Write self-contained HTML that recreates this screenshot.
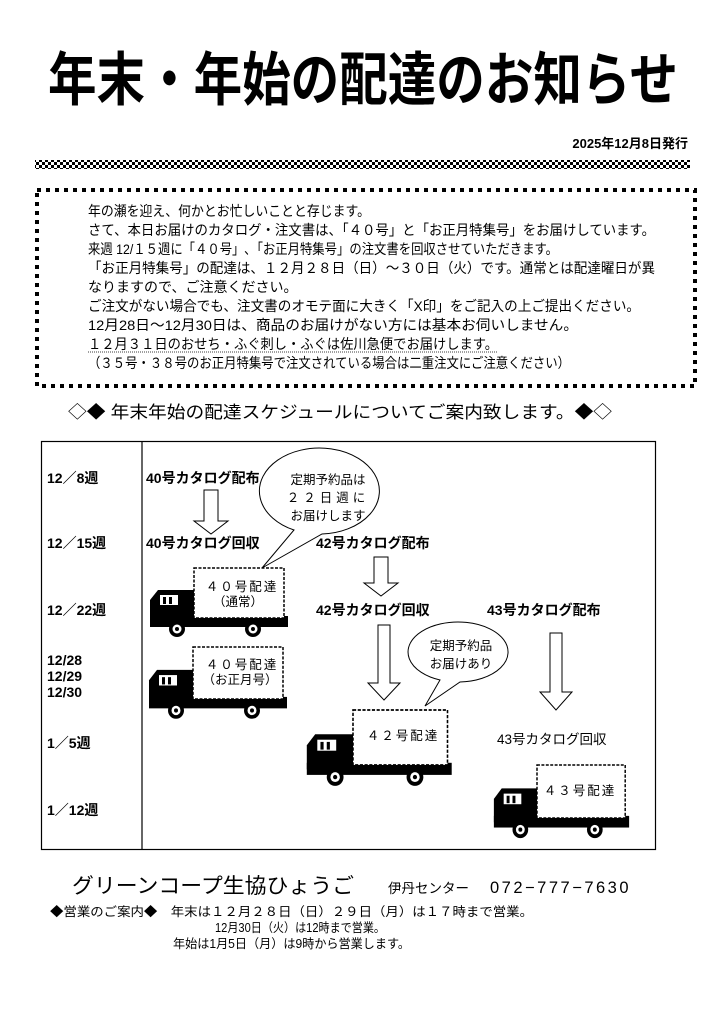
<!DOCTYPE html>
<html><head><meta charset="utf-8"><style>
html,body{margin:0;padding:0;background:#fff}
svg{display:block}
text{font-family:"Liberation Sans","Noto Sans CJK JP",sans-serif;fill:#000}
.b{font-weight:bold}
</style></head><body>
<svg width="724" height="1024" viewBox="0 0 724 1024" xmlns="http://www.w3.org/2000/svg">
<defs>
<pattern id="chk" width="6" height="6" patternUnits="userSpaceOnUse">
<rect width="6" height="6" fill="#fff"/><rect width="3" height="3" fill="#000"/><rect x="3" y="3" width="3" height="3" fill="#000"/>
</pattern>
<g id="truck">
<path d="M -44,54 L -44,32 L -36,22 L 4,22 L 4,54 Z" fill="#000"/>
<rect x="-34" y="27" width="18" height="10" fill="#fff"/>
<rect x="-31" y="29" width="3" height="7" fill="#000"/><rect x="-25" y="29" width="3" height="7" fill="#000"/>
<rect x="-44" y="48" width="138" height="11" fill="#000"/>
<rect x="0" y="0" width="90" height="50" fill="#fff" stroke="#000" stroke-width="1.5" stroke-dasharray="3 1.5"/>
<circle cx="-17" cy="61" r="8" fill="#000"/><circle cx="-17" cy="61" r="4.5" fill="#fff"/><circle cx="-17" cy="61" r="2" fill="#000"/>
<circle cx="59" cy="61" r="8" fill="#000"/><circle cx="59" cy="61" r="4.5" fill="#fff"/><circle cx="59" cy="61" r="2" fill="#000"/>
</g>
</defs>

<text x="363" y="100" font-size="58" class="b" text-anchor="middle" textLength="630" lengthAdjust="spacingAndGlyphs">年末・年始の配達のお知らせ</text>
<text x="688" y="148" font-size="13" class="b" text-anchor="end">2025年12月8日発行</text>
<rect x="35" y="160" width="655" height="9" fill="url(#chk)"/>

<rect x="37" y="190" width="658" height="196" fill="none" stroke="#000" stroke-width="4" stroke-dasharray="4 5"/>
<g font-size="14">
<text x="88" y="216" textLength="282" lengthAdjust="spacingAndGlyphs">年の瀬を迎え、何かとお忙しいことと存じます。</text>
<text x="88" y="235" textLength="567" lengthAdjust="spacingAndGlyphs">さて、本日お届けのカタログ・注文書は、「４０号」と「お正月特集号」をお届けしています。</text>
<text x="88" y="254" textLength="470" lengthAdjust="spacingAndGlyphs">来週 12/１５週に「４０号」､「お正月特集号」の注文書を回収させていただきます。</text>
<text x="88" y="273" textLength="567" lengthAdjust="spacingAndGlyphs">「お正月特集号」の配達は、１２月２８日（日）～３０日（火）です。通常とは配達曜日が異</text>
<text x="88" y="292">なりますので、ご注意ください。</text>
<text x="88" y="311" textLength="552" lengthAdjust="spacingAndGlyphs">ご注文がない場合でも、注文書のオモテ面に大きく「X印」をご記入の上ご提出ください。</text>
<text x="88" y="330" textLength="490" lengthAdjust="spacingAndGlyphs">12月28日～12月30日は、商品のお届けがない方には基本お伺いしません。</text>
<text x="88" y="349" textLength="410" lengthAdjust="spacingAndGlyphs">１２月３１日のおせち・ふぐ刺し・ふぐは佐川急便でお届けします。</text>
<line x1="88" y1="352" x2="498" y2="352" stroke="#000" stroke-width="0.8" stroke-dasharray="1 1"/>
<text x="88" y="368" textLength="482" lengthAdjust="spacingAndGlyphs">（３５号・３８号のお正月特集号で注文されている場合は二重注文にご注意ください）</text>
</g>

<text x="68" y="418" font-size="17" textLength="544" lengthAdjust="spacingAndGlyphs">◇◆ 年末年始の配達スケジュールについてご案内致します。◆◇</text>

<rect x="41.5" y="441.5" width="614" height="408" fill="none" stroke="#000" stroke-width="1.2"/>
<line x1="142" y1="442" x2="142" y2="850" stroke="#000" stroke-width="1.2"/>

<g font-size="14" class="b">
<text x="47" y="483">12／8週</text>
<text x="47" y="548">12／15週</text>
<text x="47" y="615">12／22週</text>
<text x="47" y="665">12/28</text>
<text x="47" y="681">12/29</text>
<text x="47" y="697">12/30</text>
<text x="47" y="748">1／5週</text>
<text x="47" y="815">1／12週</text>
<text x="146" y="483">40号カタログ配布</text>
<text x="146" y="548">40号カタログ回収</text>
<text x="316" y="548">42号カタログ配布</text>
<text x="316" y="615">42号カタログ回収</text>
<text x="487" y="615">43号カタログ配布</text>
</g>
<text x="497" y="744" font-size="13.5">43号カタログ回収</text>

<g fill="#fff" stroke="#000" stroke-width="1">
<polygon points="204,490 218,490 218,521 228,521 211,534 194,521 204,521"/>
<polygon points="374,557 388,557 388,583 398,583 381,596 364,583 374,583"/>
<polygon points="378,625 390,625 390,683 400,683 384,700 368,683 378,683"/>
<polygon points="550,633 562,633 562,692 572,692 556,710 540,692 550,692"/>
</g>

<path d="M 294,530 A 60 43 0 1 1 322,534 L 262,568 Z" fill="#fff" stroke="#000" stroke-width="1"/>
<g font-size="12.5" text-anchor="middle">
<text x="328" y="484">定期予約品は</text>
<text x="328" y="502" letter-spacing="4">２２日週に</text>
<text x="328" y="520">お届けします</text>
</g>
<path d="M 440,680 A 50 30 0 1 1 460,682 L 425,706 Z" fill="#fff" stroke="#000" stroke-width="1"/>
<g font-size="12.5" text-anchor="middle">
<text x="461" y="650">定期予約品</text>
<text x="461" y="668">お届けあり</text>
</g>

<use href="#truck" x="194" y="568"/>
<use href="#truck" transform="translate(193,647) scale(1,1.04)"/>
<use href="#truck" transform="translate(353,710) scale(1.05,1.1)"/>
<use href="#truck" transform="translate(537,765) scale(0.98,1.06)"/>
<g font-size="12.5" text-anchor="middle">
<text x="242" y="591" letter-spacing="2">４０号配達</text>
<text x="238" y="606">（通常）</text>
<text x="242" y="669" letter-spacing="2">４０号配達</text>
<text x="240" y="684">（お正月号）</text>
<text x="403" y="740" letter-spacing="2">４２号配達</text>
<text x="580" y="795" letter-spacing="2">４３号配達</text>
</g>

<text x="72" y="893" font-size="21" textLength="282" lengthAdjust="spacingAndGlyphs">グリーンコープ生協ひょうご</text>
<text x="388" y="893" font-size="13.5">伊丹センター</text>
<text x="490" y="893" font-size="16.5" letter-spacing="2.5">072−777−7630</text>
<g font-size="12.5">
<text x="50" y="916" textLength="483" lengthAdjust="spacingAndGlyphs">◆営業のご案内◆　年末は１２月２８日（日）２９日（月）は１７時まで営業。</text>
<text x="215" y="932" textLength="170" lengthAdjust="spacingAndGlyphs">12月30日（火）は12時まで営業。</text>
<text x="173" y="948" textLength="237" lengthAdjust="spacingAndGlyphs">年始は1月5日（月）は9時から営業します。</text>
</g>
</svg>
</body></html>
